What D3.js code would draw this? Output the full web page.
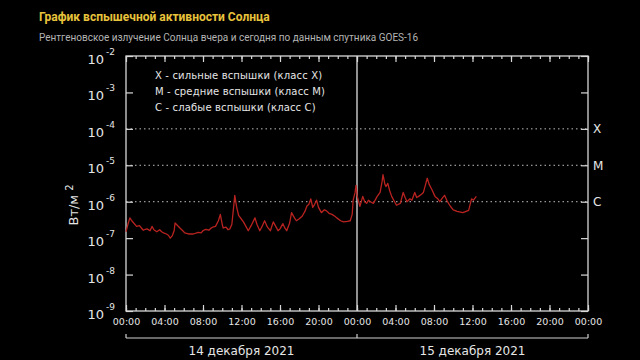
<!DOCTYPE html>
<html><head><meta charset="utf-8">
<script src="https://cdn.jsdelivr.net/npm/d3@7"></script>
<style>
html,body{margin:0;padding:0;background:#000;}
svg{display:block;}
</style></head>
<body>
<script>
// ---- data ----
const titleText = "График вспышечной активности Солнца";
const subtitleText = "Рентгеновское излучение Солнца вчера и сегодня по данным спутника GOES-16";
const yLabelText = "Вт/м";
const yExponents = [-2, -3, -4, -5, -6, -7, -8, -9];
const gridExponents = [-4, -5, -6];
const classLabels = ["X", "M", "C"];
const classExponents = [-4, -5, -6];
const legendLines = [
  "X - сильные вспышки (класс X)",
  "M - средние вспышки (класс M)",
  "C - слабые вспышки (класс C)"
];
const dayLabels = ["14 декабря 2021", "15 декабря 2021"];
const xTickHours = [0, 4, 8, 12, 16, 20, 24, 28, 32, 36, 40, 44, 48];
// [hours since 14 Dec 00:00, flux W/m^2]
const readings = [
  [0.0,1.5e-7],[0.2,2.4e-7],[0.4,3.6e-7],[0.6,3.0e-7],[0.8,2.6e-7],[1.1,2.1e-7],[1.4,2.2e-7],[1.6,1.9e-7],[1.8,1.65e-7],
  [2.0,1.75e-7],[2.2,1.8e-7],[2.5,1.6e-7],[2.7,2.1e-7],[2.9,1.7e-7],[3.2,1.5e-7],[3.5,1.7e-7],[3.7,1.5e-7],[3.9,1.4e-7],[4.2,1.3e-7],
  [4.4,1.2e-7],[4.6,1.0e-7],[4.8,1.15e-7],[5.0,1.6e-7],[5.1,2.6e-7],[5.3,2.3e-7],[5.6,1.9e-7],[5.9,1.6e-7],[6.1,1.4e-7],
  [6.5,1.3e-7],[7.0,1.3e-7],[7.5,1.45e-7],[7.8,1.4e-7],[8.0,1.6e-7],[8.3,1.75e-7],[8.6,1.65e-7],[8.8,1.85e-7],[9.0,2.0e-7],[9.3,2.1e-7],
  [9.6,3.0e-7],[9.8,4.5e-7],[10.0,2.4e-7],[10.1,1.9e-7],[10.4,2.0e-7],[10.6,1.7e-7],[10.8,1.8e-7],[11.0,2.4e-7],[11.2,8.0e-7],
  [11.3,1.5e-6],[11.5,7.0e-7],[11.7,4.2e-7],[12.0,3.3e-7],[12.2,2.8e-7],[12.5,2.0e-7],[12.7,1.6e-7],[13.0,2.2e-7],
  [13.4,3.6e-7],[13.6,2.4e-7],[13.9,1.6e-7],[14.1,2.0e-7],[14.4,3.0e-7],[14.7,2.0e-7],[15.0,1.6e-7],[15.3,2.8e-7],
  [15.6,2.0e-7],[15.8,1.6e-7],[16.0,1.8e-7],[16.3,2.5e-7],[16.5,1.9e-7],[16.7,1.6e-7],[17.0,2.6e-7],[17.2,5.0e-7],
  [17.5,3.6e-7],[17.7,3.0e-7],[18.0,3.4e-7],[18.3,4.0e-7],[18.6,5.5e-7],[18.8,7.6e-7],[19.0,8.5e-7],[19.2,1.2e-6],
  [19.4,7.0e-7],[19.6,8.5e-7],[19.8,1.1e-6],[20.0,7.0e-7],[20.3,5.0e-7],[20.6,6.0e-7],[20.8,5.7e-7],[21.1,4.8e-7],
  [21.4,4.5e-7],[21.7,4.0e-7],[21.9,3.6e-7],[22.3,3.0e-7],[22.6,2.8e-7],[23.0,2.9e-7],[23.3,3.0e-7],[23.5,4.5e-7],
  [23.6,1.1e-6],[23.8,1.8e-6],[23.9,2.8e-6],[24.0,1.5e-6],[24.3,7.5e-7],[24.6,1.4e-6],[24.8,1.0e-6],[25.0,9.0e-7],
  [25.2,1.1e-6],[25.4,1.0e-6],[25.7,9.0e-7],[26.1,1.4e-6],[26.4,1.8e-6],[26.6,3.5e-6],[26.7,5.5e-6],[26.9,3.0e-6],
  [27.0,2.6e-6],[27.2,3.2e-6],[27.4,2.0e-6],[27.6,1.4e-6],[28.1,8.0e-7],[28.5,9.0e-7],[28.8,1.8e-6],[29.0,1.3e-6],
  [29.2,1.0e-6],[29.5,1.2e-6],[29.7,1.1e-6],[30.0,1.8e-6],[30.2,1.3e-6],[30.4,1.4e-6],[30.7,1.6e-6],[30.9,1.8e-6],
  [31.1,2.8e-6],[31.3,4.4e-6],[31.5,3.0e-6],[31.8,2.1e-6],[32.1,1.4e-6],[32.4,1.2e-6],[32.6,1.0e-6],[32.9,1.3e-6],
  [33.1,1.5e-6],[33.4,1.0e-6],[33.7,7.5e-7],[34.0,6.0e-7],[34.4,5.4e-7],[35.0,5.0e-7],[35.6,5.8e-7],[35.9,1.2e-6],
  [36.1,1.1e-6],[36.4,1.4e-6]
];

// ---- layout ----
const W = 640, H = 360;
const plot = {left: 126, right: 588, top: 56, bottom: 311};
const axisColor = "#d8d8d8";
const textColor = "#e6e6e6";
const fontAxis = "'DejaVu Sans', Verdana, sans-serif";

const svg = d3.select("body").append("svg").attr("width", W).attr("height", H)
  .style("background", "#000");

const start = new Date(2021, 11, 14, 0, 0);
const hToDate = h => new Date(start.getTime() + h * 3600e3);

const x = d3.scaleTime().domain([hToDate(0), hToDate(48)]).range([plot.left, plot.right]);
const y = d3.scaleLog().domain([1e-9, 1e-2]).range([plot.bottom, plot.top]);

// title
svg.append("text").attr("x", 39).attr("y", 21).text(titleText)
  .attr("fill", "#e8c33c").attr("font-family", "Roboto, sans-serif")
  .attr("font-weight", "bold").attr("font-size", 12);
svg.append("text").attr("x", 39).attr("y", 41).text(subtitleText)
  .attr("fill", "#b4b4b4").attr("font-family", "Roboto, sans-serif")
  .attr("font-size", 10);

// grid dotted lines
svg.append("g").selectAll("line").data(gridExponents).join("line")
  .attr("x1", plot.left).attr("x2", plot.right)
  .attr("y1", d => y(Math.pow(10, d))).attr("y2", d => y(Math.pow(10, d)))
  .attr("stroke", "#bdbdbd").attr("stroke-width", 1).attr("stroke-dasharray", "1.5,3");

// midnight vertical line
svg.append("line").attr("x1", x(hToDate(24))).attr("x2", x(hToDate(24)))
  .attr("y1", plot.top).attr("y2", plot.bottom)
  .attr("stroke", "#d0d0d0").attr("stroke-width", 1.4);

// frame
svg.append("rect").attr("x", plot.left).attr("y", plot.top)
  .attr("width", plot.right - plot.left).attr("height", plot.bottom - plot.top)
  .attr("fill", "none").attr("stroke", axisColor).attr("stroke-width", 1.3);

function styleAxis(g) {
  g.select(".domain").remove();
  g.selectAll(".tick line").attr("stroke", axisColor).attr("stroke-width", 1.2);
}

const hourly = d3.range(0, 49).map(hToDate);
const major = xTickHours.map(hToDate);

svg.append("g").attr("transform", `translate(0,${plot.bottom})`)
  .call(d3.axisBottom(x).tickValues(hourly).tickSize(-3).tickFormat(""))
  .call(styleAxis);
svg.append("g").attr("transform", `translate(0,${plot.bottom})`)
  .call(d3.axisBottom(x).tickValues(major).tickSize(-6).tickPadding(7)
    .tickFormat(d3.timeFormat("%H:%M")))
  .call(styleAxis)
  .call(g => g.selectAll("text").attr("fill", textColor)
    .attr("font-family", fontAxis).attr("font-size", 9.5));
svg.append("g").attr("transform", `translate(0,${plot.top})`)
  .call(d3.axisTop(x).tickValues(hourly).tickSize(-3).tickFormat(""))
  .call(styleAxis);
svg.append("g").attr("transform", `translate(0,${plot.top})`)
  .call(d3.axisTop(x).tickValues(major).tickSize(-6).tickFormat(""))
  .call(styleAxis);

const yVals = yExponents.map(e => Math.pow(10, e));
svg.append("g").attr("transform", `translate(${plot.left},0)`)
  .call(d3.axisLeft(y).tickValues(yVals).tickSize(-7).tickFormat(""))
  .call(styleAxis);
svg.append("g").attr("transform", `translate(${plot.right},0)`)
  .call(d3.axisRight(y).tickValues(yVals).tickSize(-7).tickFormat(""))
  .call(styleAxis);

svg.append("g").selectAll("text").data(yExponents).join("text")
  .attr("x", 104).attr("y", d => y(Math.pow(10, d)) + 8)
  .attr("text-anchor", "end").text("10")
  .attr("fill", textColor).attr("font-family", fontAxis).attr("font-size", 13);
svg.append("g").selectAll("text").data(yExponents).join("text")
  .attr("x", 106).attr("y", d => y(Math.pow(10, d)) - 1)
  .text(d => String(d))
  .attr("fill", textColor).attr("font-family", fontAxis).attr("font-size", 9);

// y axis title
const yt = svg.append("text")
  .attr("transform", "translate(78,205) rotate(-90)")
  .attr("text-anchor", "middle")
  .attr("fill", textColor).attr("font-family", fontAxis).attr("font-size", 13);
yt.append("tspan").text(yLabelText);
yt.append("tspan").text("2").attr("font-size", 10).attr("dy", -5).attr("dx", 4);

svg.append("g").selectAll("text").data(classLabels).join("text")
  .attr("x", 593).attr("y", (d, i) => y(Math.pow(10, classExponents[i])) + 4.5)
  .text(d => d)
  .attr("fill", textColor).attr("font-family", fontAxis).attr("font-size", 12);

svg.append("g").selectAll("text").data(legendLines).join("text")
  .attr("x", 155).attr("y", (d, i) => 79 + i * 16)
  .text(d => d)
  .attr("fill", textColor).attr("font-family", fontAxis).attr("font-size", 10)
  .attr("letter-spacing", 0.15);

const line = d3.line()
  .x(d => x(hToDate(d[0])))
  .y(d => y(d[1]));
svg.append("path").datum(readings).attr("d", line)
  .attr("fill", "none").attr("stroke", "#b82320").attr("stroke-width", 1.3)
  .attr("stroke-linejoin", "round");

const by = 338;
const br = svg.append("g").attr("stroke", "#cfcfcf").attr("stroke-width", 1.2).attr("fill", "none");
br.append("line").attr("x1", x(hToDate(0))).attr("x2", x(hToDate(48))).attr("y1", by).attr("y2", by);
[0, 24, 48].forEach(h => {
  br.append("line").attr("x1", x(hToDate(h))).attr("x2", x(hToDate(h)))
    .attr("y1", by - 4).attr("y2", by);
});
svg.append("g").selectAll("text").data(dayLabels).join("text")
  .attr("x", (d, i) => x(hToDate(12 + 24 * i)))
  .attr("y", 355)
  .attr("text-anchor", "middle")
  .text(d => d)
  .attr("fill", textColor).attr("font-family", fontAxis).attr("font-size", 12);
</script>
</body></html>
